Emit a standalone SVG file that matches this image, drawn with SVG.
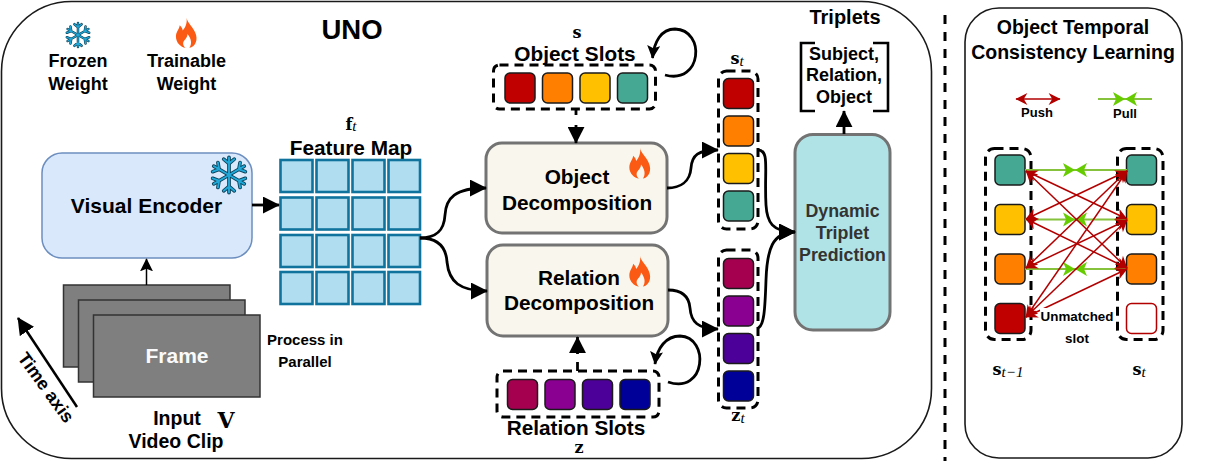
<svg xmlns="http://www.w3.org/2000/svg" xmlns:xlink="http://www.w3.org/1999/xlink" width="1223" height="461" viewBox="0 0 1223 461">
<style>
text{font-family:"Liberation Sans",Arial,sans-serif;font-weight:700;fill:#000;text-anchor:middle}
.m{font-family:"DejaVu Serif","Liberation Serif",serif;font-size:16px}
.i{font-family:"Liberation Serif",serif;font-style:italic;font-weight:400;font-size:15px}
.panel{fill:#fff;stroke:#1a1a1a;stroke-width:1.6}
.dash{fill:none;stroke:#000;stroke-width:3;stroke-dasharray:9 6}
.cell{stroke:#1a1a1a;stroke-width:1.5}
.fm{fill:#b1ddf0;stroke:#10739e;stroke-width:2.6}
.frame{fill:#7f7f7f;stroke:#333;stroke-width:1.5}
.dec{fill:#f9f7ed;stroke:#737373;stroke-width:3}
.c{fill:none;stroke:#000;stroke-width:2.8}
.push{stroke:#b20000;stroke-width:1.5;fill:none;marker-start:url(#rh);marker-end:url(#rh)}
.pull{stroke:#86c23c;stroke-width:2;fill:none}
.f17{font-size:18px}.f19{font-size:20.800px}.dt{font-size:17.800px;fill:#333}
</style>
<defs>
<marker id="ah" viewBox="0 0 10 10" refX="9.500" refY="5" markerUnits="userSpaceOnUse" markerWidth="17" markerHeight="17" orient="auto"><path d="M0 0L10 5L0 10Z" fill="#000"/></marker>
<marker id="ahn" viewBox="0 0 10 10" refX="9.500" refY="5" markerUnits="userSpaceOnUse" markerWidth="13" markerHeight="13" orient="auto"><path d="M0 0L10 5L0 10L2 5Z" fill="#000"/></marker>
<marker id="rh" viewBox="0 0 10 10" refX="9.500" refY="5" markerUnits="userSpaceOnUse" markerWidth="14" markerHeight="12" orient="auto-start-reverse"><path d="M0 0L10 5L0 10L3 5Z" fill="#b20000"/></marker>
<symbol id="flame" viewBox="0 0 24 32" overflow="visible"><path fill-rule="evenodd" fill="#fa5a14" d="M12 0C13 6 20 10 22 18C24 26 19 31 15 31.500C18 27 17 22 13 17C13 22 8.500 23 8.500 27C8.500 29 9.500 30.500 11 31.500C6 31 1 26 1 20C1 15 4 13 5 8C7 10 8 12 8 13.500C11 10 13 5 12 0Z"/></symbol>
<g id="arm"><path d="M0 0V-20M0 -13L-6 -18M0 -13L6 -18"/></g>
<symbol id="flake" viewBox="-25 -25 50 50" overflow="visible">
<g fill="none" stroke="#0b3f55" stroke-width="4.200" stroke-linecap="round"><use href="#arm"/><use href="#arm" transform="rotate(60)"/><use href="#arm" transform="rotate(120)"/><use href="#arm" transform="rotate(180)"/><use href="#arm" transform="rotate(240)"/><use href="#arm" transform="rotate(300)"/></g>
<g fill="none" stroke="#20a8d8" stroke-width="2.200" stroke-linecap="round"><use href="#arm"/><use href="#arm" transform="rotate(60)"/><use href="#arm" transform="rotate(120)"/><use href="#arm" transform="rotate(180)"/><use href="#arm" transform="rotate(240)"/><use href="#arm" transform="rotate(300)"/></g>
</symbol>
</defs>
<rect width="1223" height="461" fill="#fff"/>
<rect id="uno-panel" class="panel" x="1.500" y="1.500" width="930" height="457" rx="70"/>
<rect id="otcl-panel" class="panel" x="965" y="8" width="217" height="450" rx="34"/>
<path id="divider" d="M945 15V461" fill="none" stroke="#000" stroke-width="3" stroke-dasharray="9 8"/>

<g id="legend-frozen"><use href="#flake" x="63" y="19" width="30" height="32"/><text class="f17" x="78" y="67">Frozen</text><text class="f17" x="78" y="90">Weight</text></g>
<g id="legend-trainable"><use href="#flame" x="175" y="17" width="23" height="32"/><text class="f17" x="186.500" y="67">Trainable</text><text class="f17" x="186.500" y="90">Weight</text></g>
<text id="title-uno" x="352" y="39" font-size="27.500">UNO</text>

<g id="visual-encoder"><rect x="42" y="153" width="210" height="105" rx="20" fill="#dae8fc" stroke="#6c8ebf" stroke-width="1.500"/><text x="146.500" y="213" font-size="21">Visual Encoder</text><use href="#flake" x="207" y="152" width="44" height="46"/></g>

<g id="feature-map">
<text class="m" x="351" y="130">f<tspan class="i" dy="1">t</tspan></text>
<text x="351" y="155" font-size="20.800">Feature Map</text>
<rect class="fm" x="280.500" y="160" width="32" height="32"/><rect class="fm" x="316.500" y="160" width="32" height="32"/><rect class="fm" x="352.500" y="160" width="32" height="32"/><rect class="fm" x="388.500" y="160" width="31.500" height="32"/>
<rect class="fm" x="280.500" y="197.500" width="32" height="32"/><rect class="fm" x="316.500" y="197.500" width="32" height="32"/><rect class="fm" x="352.500" y="197.500" width="32" height="32"/><rect class="fm" x="388.500" y="197.500" width="31.500" height="32"/>
<rect class="fm" x="280.500" y="235" width="32" height="32"/><rect class="fm" x="316.500" y="235" width="32" height="32"/><rect class="fm" x="352.500" y="235" width="32" height="32"/><rect class="fm" x="388.500" y="235" width="31.500" height="32"/>
<rect class="fm" x="280.500" y="272" width="32" height="32"/><rect class="fm" x="316.500" y="272" width="32" height="32"/><rect class="fm" x="352.500" y="272" width="32" height="32"/><rect class="fm" x="388.500" y="272" width="31.500" height="32"/>
</g>

<g id="frames">
<rect class="frame" x="63.500" y="285" width="166.500" height="82"/><rect class="frame" x="78.500" y="300" width="166.500" height="82"/><rect class="frame" x="93.500" y="315" width="166.500" height="82"/>
<text x="177" y="363" font-size="21" style="fill:#fafafa">Frame</text>
</g>
<g id="labels-input">
<text x="305" y="345" font-size="15">Process in</text><text x="305" y="367" font-size="15">Parallel</text>
<text x="177" y="425" font-size="19.500">Input</text><text x="176" y="448" font-size="19.500">Video Clip</text>
<text class="m" x="226" y="428" style="font-size:22px">V</text>
<text x="0" y="0" font-size="18" transform="translate(41 391) rotate(54)">Time axis</text>
</g>

<g id="object-decomposition"><rect class="dec" x="486" y="143" width="181" height="90" rx="16"/><text class="f19" x="577" y="184">Object</text><text class="f19" x="577" y="210">Decomposition</text><use href="#flame" x="628" y="148" width="24" height="31"/></g>
<g id="relation-decomposition"><rect class="dec" x="487" y="245" width="181" height="91" rx="16"/><text class="f19" x="579" y="285">Relation</text><text class="f19" x="579" y="310">Decomposition</text><use href="#flame" x="628" y="256" width="24" height="31"/></g>

<g id="object-slots">
<text class="m" x="577" y="38">s</text><text x="575" y="61" font-size="20.800">Object Slots</text>
<rect class="dash" x="493.500" y="65" width="162" height="44" rx="6"/>
<rect class="cell" x="505" y="73" width="30" height="30" rx="5" fill="#c00000"/><rect class="cell" x="542.500" y="73" width="30" height="30" rx="5" fill="#ff8000"/><rect class="cell" x="580" y="73" width="30" height="30" rx="5" fill="#ffc000"/><rect class="cell" x="617.500" y="73" width="30" height="30" rx="5" fill="#44a893"/>
</g>
<g id="relation-slots">
<rect class="dash" x="497" y="371" width="162" height="46" rx="6"/>
<rect class="cell" x="507.500" y="379.500" width="30" height="30" rx="5" fill="#a50050"/><rect class="cell" x="545" y="379.500" width="30" height="30" rx="5" fill="#8a0090"/><rect class="cell" x="582.500" y="379.500" width="30" height="30" rx="5" fill="#4c0099"/><rect class="cell" x="620" y="379.500" width="30" height="30" rx="5" fill="#000099"/>
<text x="576" y="435" font-size="20.800">Relation Slots</text><text class="m" x="579" y="453">z</text>
</g>
<g id="s-t">
<text class="m" x="737" y="64">s<tspan class="i" dy="2">t</tspan></text>
<rect class="dash" x="718.500" y="71" width="39.500" height="158" rx="8"/>
<rect class="cell" x="723.500" y="78.500" width="30" height="30" rx="5" fill="#c00000"/><rect class="cell" x="723.500" y="116" width="30" height="30" rx="5" fill="#ff8000"/><rect class="cell" x="723.500" y="153.500" width="30" height="30" rx="5" fill="#ffc000"/><rect class="cell" x="723.500" y="191" width="30" height="30" rx="5" fill="#44a893"/>
</g>
<g id="z-t">
<rect class="dash" x="718.500" y="250" width="39.500" height="158" rx="8"/>
<rect class="cell" x="723.500" y="258.500" width="30" height="30" rx="5" fill="#a50050"/><rect class="cell" x="723.500" y="296" width="30" height="30" rx="5" fill="#8a0090"/><rect class="cell" x="723.500" y="333.500" width="30" height="30" rx="5" fill="#4c0099"/><rect class="cell" x="723.500" y="371" width="30" height="30" rx="5" fill="#000099"/>
<text class="m" x="738" y="421">z<tspan class="i" dy="2">t</tspan></text>
</g>

<g id="dynamic-triplet"><rect x="795" y="134.500" width="95" height="195.500" rx="18" fill="#b0e3e6" stroke="#737373" stroke-width="3"/><text class="dt" x="842.500" y="217">Dynamic</text><text class="dt" x="842.500" y="239">Triplet</text><text class="dt" x="842.500" y="261">Prediction</text></g>
<g id="triplets">
<text x="845" y="24" font-size="20">Triplets</text>
<path d="M815 43H801V111H815M873 43H888V111H873" fill="none" stroke="#000" stroke-width="2.600"/>
<text class="f17" x="844" y="60">Subject,</text><text class="f17" x="844" y="81">Relation,</text><text class="f17" x="844" y="103">Object</text>
</g>

<g id="connectors">
<path class="c" d="M252 205H279" marker-end="url(#ah)"/>
<path d="M146.500 285V259" fill="none" stroke="#000" stroke-width="1.500" marker-end="url(#ahn)"/>
<path d="M77 407L18 318" fill="none" stroke="#000" stroke-width="2.500" marker-end="url(#ah)"/>
<path class="c" d="M420 238C435 238 444 232 445 215C446 198 455 188 486 188" marker-end="url(#ah)"/>
<path class="c" d="M420 238C436 238 446 245 447 262C449 282 460 291 487 291" marker-end="url(#ah)"/>
<path class="c" d="M667 188C680 188 690 182 691 168C692 155 698 150 718 150" marker-end="url(#ah)"/>
<path class="c" d="M668 290C682 290 689 296 690 308C691 322 698 329 718 329" marker-end="url(#ah)"/>
<path class="c" d="M758 150C770 150 764 170 766 205C767 222 772 232 795 232" marker-end="url(#ah)"/>
<path class="c" d="M758 328C764 326 765 310 766 280C767 250 772 232 795 232" marker-end="url(#ah)"/>
<path class="c" d="M665 75C702 85 706 30 675 29C661 29 654 42 652.500 58" marker-end="url(#ahn)"/>
<path class="c" d="M668 382C706 395 710 337 680 336C666 336 657 348 655 364" marker-end="url(#ahn)"/>
<path class="c" d="M576 109V115"/><path class="c" d="M576 125V143" marker-end="url(#ah)"/>
<path class="c" d="M577.500 371V362"/><path class="c" d="M577.500 354V337" marker-end="url(#ah)"/>
<path class="c" d="M844 134V111" marker-end="url(#ah)"/>
</g>

<g id="otcl">
<text x="1073" y="34" font-size="19.500">Object Temporal</text><text x="1073" y="59" font-size="19.500">Consistency Learning</text>
<path class="push" d="M1016 99H1060"/>
<path class="pull" d="M1098 99H1152"/>
<path id="bow1" d="M1113 92L1125 99L1113 106L1116 99ZM1137 92L1125 99L1137 106L1134 99Z" fill="#66cc00"/>
<text x="1037" y="117" font-size="13">Push</text><text x="1125" y="118" font-size="13">Pull</text>

<rect class="dash" x="985.500" y="148.500" width="45.500" height="191" rx="9"/>
<rect class="dash" x="1117.500" y="148.500" width="45.500" height="191" rx="9"/>
<rect class="cell" x="995" y="155" width="30" height="30" rx="5" fill="#44a893"/><rect class="cell" x="995" y="204.500" width="30" height="30" rx="5" fill="#ffc000"/><rect class="cell" x="995" y="254" width="30" height="30" rx="5" fill="#ff8000"/><rect class="cell" x="995" y="303.500" width="30" height="30" rx="5" fill="#c00000"/>
<rect class="cell" x="1126.500" y="155" width="30" height="30" rx="5" fill="#44a893"/><rect class="cell" x="1126.500" y="204.500" width="30" height="30" rx="5" fill="#ffc000"/><rect class="cell" x="1126.500" y="254" width="30" height="30" rx="5" fill="#ff8000"/><rect x="1126.500" y="303.500" width="30" height="30" rx="5" fill="#fff" stroke="#b20000" stroke-width="1.500"/>

<path class="pull" d="M1025 170H1127M1025 219.500H1127M1025 269H1127"/>
<path d="M1063 163L1075 170L1063 177L1066 170ZM1087 163L1075 170L1087 177L1084 170ZM1063 212.500L1075 219.500L1063 226.500L1066 219.500ZM1087 212.500L1075 219.500L1087 226.500L1084 219.500ZM1063 262L1075 269L1063 276L1066 269ZM1087 262L1075 269L1087 276L1084 269Z" fill="#66cc00"/>

<path class="push" d="M1026 171L1127 219"/><path class="push" d="M1026 171L1127 268"/>
<path class="push" d="M1026 219L1127 171"/><path class="push" d="M1026 219L1127 268"/>
<path class="push" d="M1026 268L1127 171"/><path class="push" d="M1026 268L1127 220"/>
<path class="push" d="M1026 317L1127 171"/><path class="push" d="M1026 317L1127 220"/><path class="push" d="M1026 317L1127 269"/>

<rect x="1040" y="308" width="74" height="16" fill="#fff"/>
<text x="1077" y="321" font-size="13.400">Unmatched</text><text x="1077" y="343" font-size="13.400">slot</text>
<text class="m" x="1008" y="375">s<tspan class="i" dy="2">t−1</tspan></text>
<text class="m" x="1139" y="375">s<tspan class="i" dy="2">t</tspan></text>
</g>
</svg>
